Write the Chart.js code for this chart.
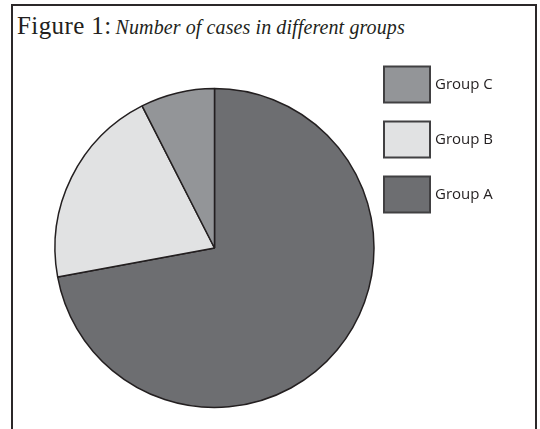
<!DOCTYPE html>
<html>
<head>
<meta charset="utf-8">
<script src="https://cdn.jsdelivr.net/npm/chart.js@4"></script>
<style>
  html, body { margin: 0; padding: 0; background: #fff; }
  #wrap { position: relative; width: 540px; height: 429px; overflow: hidden; }
  #frame {
    position: absolute; left: 11px; top: 4px; width: 522px; height: 460px;
    border: 2px solid #2b2829;
  }
  #title {
    position: absolute; left: 17px; top: 12px; white-space: nowrap;
    font-family: "Liberation Serif", serif; color: #231f20;
  }
  #title .lead { font-size: 25px; letter-spacing: 0.4px; }
  #title .sub { font-size: 20px; font-style: italic; letter-spacing: 0.1px; }
  canvas { position: absolute; left: 0; top: 0; }
</style>
</head>
<body>
<div id="wrap">
  <div id="frame"></div>
  <div id="title"><span class="lead">Figure 1:</span> <span class="sub">Number of cases in different groups</span></div>
  <canvas id="pieChart" width="540" height="429"></canvas>
</div>
<script>
// Данные диаграммы
const groups = ['Group A', 'Group B', 'Group C'];
const cases = [72.1, 20.4, 7.5];
const colors = ['#6d6e71', '#e1e2e3', '#939598'];

// Легенда справа, в обратном порядке (C, B, A)
const boxLegend = {
    id: 'boxLegend',
    afterDraw(chart) {
        const ctx = chart.ctx;
        const ds = chart.data.datasets[0];
        const labels = chart.data.labels;
        ctx.save();
        ctx.font = '15px "Open Sans", sans-serif';
        ctx.textBaseline = 'middle';
        for (let k = 0; k < labels.length; k++) {
            const i = labels.length - 1 - k;
            const y = 66.5 + k * 55;
            ctx.fillStyle = ds.backgroundColor[i];
            ctx.fillRect(384, y, 46, 36);
            ctx.lineWidth = 2;
            ctx.strokeStyle = '#414042';
            ctx.strokeRect(384, y, 46, 36);
            ctx.fillStyle = '#231f20';
            ctx.fillText(labels[i], 435, y + 18);
        }
        ctx.restore();
    }
};

const ctx = document.getElementById('pieChart').getContext('2d');
const pieChart = new Chart(ctx, {
    type: 'pie',
    data: {
        labels: groups,
        datasets: [{
            data: cases,
            backgroundColor: colors,
            borderColor: '#231f20',
            borderWidth: 1.5,
            hoverOffset: 0,
            radius: 159.5
        }]
    },
    options: {
        responsive: false,
        animation: false,
        events: [],
        layout: { padding: { left: 55, right: 166, top: 88, bottom: 21 } },
        plugins: {
            legend: { display: false },
            tooltip: { enabled: false }
        }
    },
    plugins: [boxLegend]
});
</script>
</body>
</html>
